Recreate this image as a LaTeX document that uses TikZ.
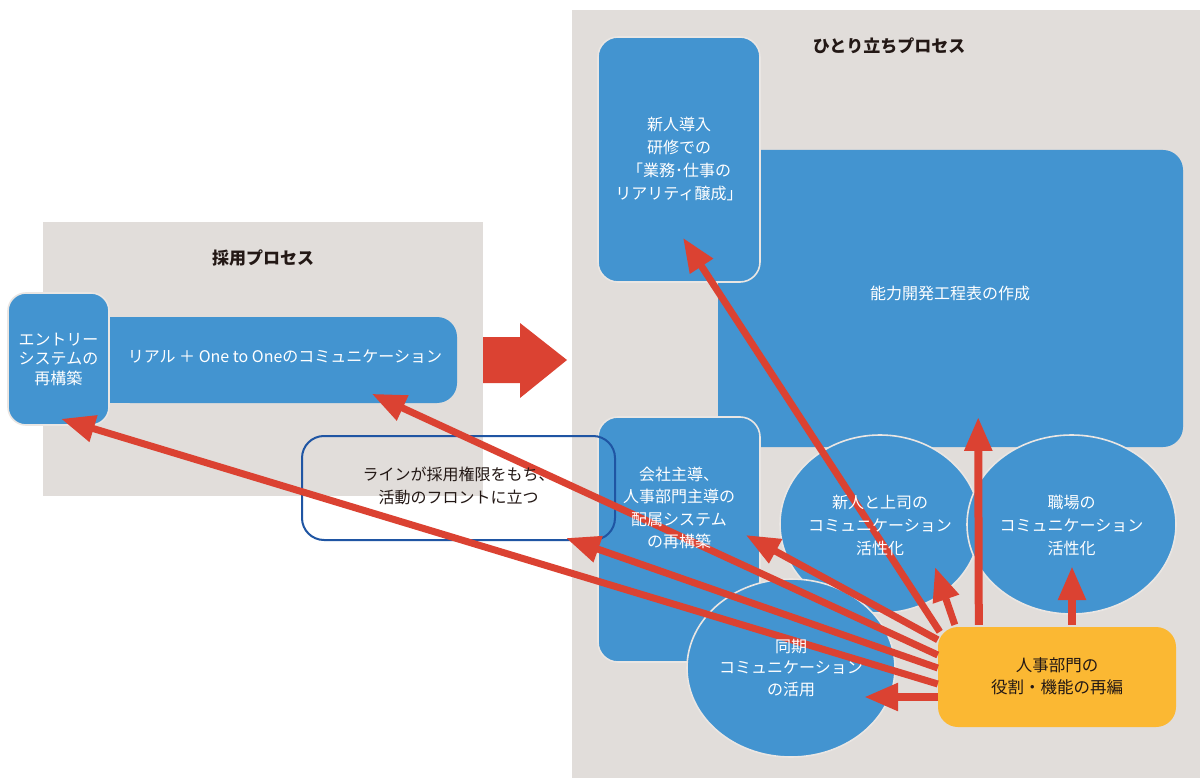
\documentclass[tikz,border=0pt]{standalone}
\usepackage{fontspec}
\setmainfont{Noto Sans CJK JP}
\usetikzlibrary{arrows.meta,shapes.geometric,calc}
\definecolor{bgG}{HTML}{E1DDDA}
\definecolor{bl}{HTML}{4394D0}
\definecolor{rd}{HTML}{DB4232}
\definecolor{yl}{HTML}{FBB833}
\definecolor{edgec}{HTML}{EAE6E3}
\definecolor{navy}{HTML}{1F55A3}
\definecolor{ink}{HTML}{231815}
\begin{document}
\begin{tikzpicture}[x=1pt,y=-1pt,
  txt/.style={font=\fontsize{16}{23}\selectfont, align=center, inner sep=0pt},
  bbox/.style={fill=bl, draw=edgec, line width=1.6pt, rounded corners=20pt, inner sep=0pt},
  ebox/.style={ellipse, fill=bl, draw=edgec, line width=1.6pt, inner sep=0pt},
  ybox/.style={fill=yl, rounded corners=20pt, inner sep=0pt},
  lnbox/.style={draw=navy, line width=2pt, rounded corners=22pt, inner sep=0pt},
  wtext/.style={txt, text=white},
  dtext/.style={txt, text=ink},
  ttl/.style={font=\fontsize{17}{20}\selectfont\bfseries, text=ink, inner sep=0pt},
  redarrow/.style={draw=rd, line width=7pt, -{Triangle[length=34pt,width=26pt]}},
]
\useasboundingbox (0,0) rectangle (1200,778);
\fill[white] (0,0) rectangle (1200,778);
\fill[bgG] (43,222) rectangle (483,496);
\fill[bgG] (572,10) rectangle (1200,778);

\node[ttl] (t1) at (263,258) {採用プロセス};
\node[ttl] (t2) at (889,46) {ひとり立ちプロセス};

% left process
\fill[bl] (105,317) rectangle (140,403);
\node[bbox, draw=none, minimum width=347pt, minimum height=86pt] (real) at (283.5,360) {};
\node[bbox, minimum width=101pt, minimum height=132pt, rounded corners=18pt] (entry) at (58.5,359) {};

% big arrow
\fill[rd] (483,337) -- (520,337) -- (520,323) -- (567,360) -- (520,398) -- (520,383) -- (483,383) -- cycle;

% right process
\node[bbox, draw=none, minimum width=465pt, minimum height=297pt] (nk) at (950.5,298.5) {};
\node[bbox, minimum width=162pt, minimum height=245pt] (sb) at (679,159.5) {};
\node[bbox, minimum width=162pt, minimum height=245pt] (kh) at (679,539.5) {};
\node[lnbox, minimum width=313pt, minimum height=104pt] (lbox) at (458.5,488) {};
\node[ebox, minimum width=200pt, minimum height=178pt] (e1) at (880,524) {};
\node[ebox, minimum width=209pt, minimum height=179pt] (e2) at (1071.5,524.5) {};
\node[ebox, minimum width=208pt, minimum height=178pt] (e3) at (791,668) {};
\node[ybox, minimum width=238pt, minimum height=100pt] (hr) at (1057,677) {};

% red arrows
\draw[redarrow] ($(hr.north west)+(2,5)$) -- ($(sb.south)+(4,-45)$);
\draw[redarrow] ($(hr.north west)+(17,-2)$) -- ($(e1.center)+(55,43)$);
\draw[redarrow, line width=8pt] ($(hr.north west)+(41,-2)$) -- ($(nk.south west)+(261,-31)$);
\draw[redarrow, line width=8pt] ($(hr.north)+(15,-2)$) -- ($(e2.center)+(0.5,41.5)$);
\draw[redarrow, line width=8pt] ($(hr.west)+(0,20)$) -- ($(e3.center)+(73,29)$);
\draw[redarrow] ($(hr.north west)+(0,13)$) -- ($(kh.east)+(-15,-4.5)$);
\draw[redarrow] ($(hr.west)+(0,-22)$) -- ($(real.south east)+(-86,-10)$);
\draw[redarrow] ($(hr.west)+(0,-9)$) -- ($(lbox.south east)+(-50,-3)$);
\draw[redarrow] ($(hr.west)+(0,7)$) -- ($(entry.south)+(2.5,-7)$);

% texts (drawn over the arrows)
\node[wtext] (realT) at (285,357) {リアル ＋ One to Oneのコミュニケーション};
\node[wtext, font=\fontsize{16}{19.5}\selectfont] (entryT) at (58.5,359) {エントリー\\システムの\\再構築};
\node[wtext] (nkT) at (950,293) {能力開発工程表の作成};
\node[wtext] (sbT) at (679,159) {新人導入\\研修での\\「業務･仕事の\\リアリティ醸成」};
\node[wtext, font=\fontsize{16}{22.5}\selectfont] (khT) at (679,508) {会社主導、\\人事部門主導の\\配属システム\\の再構築};
\node[dtext] (lboxT) at (458.5,486) {ラインが採用権限をもち、\\活動のフロントに立つ};
\node[wtext] (e1T) at (880,525) {新人と上司の\\コミュニケーション\\活性化};
\node[wtext] (e2T) at (1071.5,525) {職場の\\コミュニケーション\\活性化};
\node[wtext, font=\fontsize{16}{21.5}\selectfont] (e3T) at (791,668) {同期\\コミュニケーション\\の活用};
\node[dtext, font=\fontsize{16.5}{22}\selectfont] (hrT) at (1057,676) {人事部門の\\役割・機能の再編};
\end{tikzpicture}
\end{document}
